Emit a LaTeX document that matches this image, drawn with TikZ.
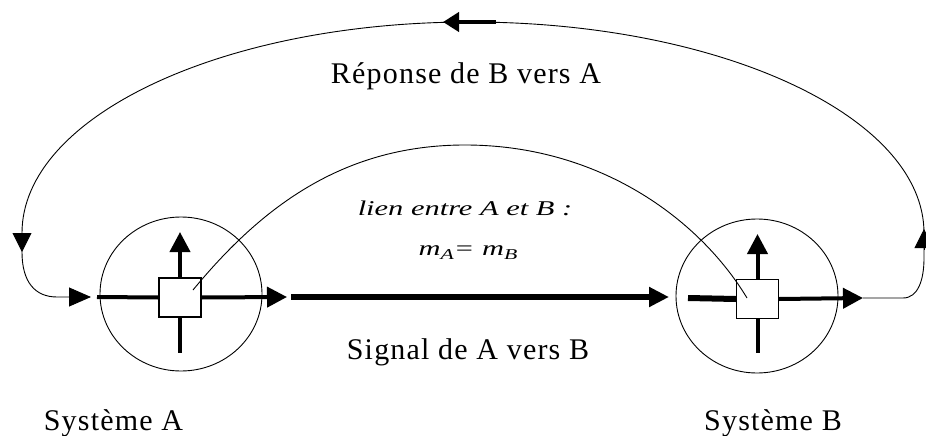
\documentclass[tikz,border=0pt]{standalone}
\usepackage{fontspec}
\setmainfont{Liberation Serif}[LetterSpace=4]
\newfontfamily\linkfont{Liberation Serif}[FakeStretch=1.45]
\usetikzlibrary{arrows.meta,shapes.geometric}
\begin{document}
\begin{tikzpicture}[x=1pt,y=-1pt,
  thinline/.style={line width=0.9pt},
  sys/.style={ellipse,draw,line width=0.9pt,minimum width=162pt,minimum height=154pt,inner sep=0pt},
  sqbox/.style={rectangle,draw,fill=white,line width=1.3pt,minimum width=42pt,minimum height=39pt,inner sep=0pt},
  stub/.style={line width=4pt},
  bigtip/.style={-{Triangle[length=20pt,width=20pt]}},
  midtip/.style={-{Triangle[length=19pt,width=19pt]}},
  txt/.style={font=\fontsize{30}{32}\selectfont, anchor=base, inner sep=0pt},
  linklabel/.style={font=\linkfont\itshape\fontsize{21}{24}\selectfont, anchor=base, inner sep=0pt}
]
\useasboundingbox (0,0) rectangle (926,436);

% systems
\node[sys] (cA) at (181,294) {};
\node[sys] (cB) at (757,296) {};
\node[sqbox] (sA) at (180,297.5) {};
\node[sqbox] (sB) at (757.5,299) {};

% coordinates
\coordinate (Aup) at (180,232);
\coordinate (Adown) at (180,353);
\coordinate (Ain) at (97,297);
\coordinate (Aout) at (287,297);
\coordinate (Bup) at (757.5,234);
\coordinate (Bdown) at (757.5,353);
\coordinate (Bin) at (688,298);
\coordinate (Bout) at (863,298);
\coordinate (sigS) at (291,297);
\coordinate (sigE) at (669,297);

% arrows of system A
\draw[stub,bigtip] (sA.north) -- (Aup);
\draw[stub] (sA.south) -- (Adown);
\draw[stub] (Ain) -- (sA.west);
\draw[stub,bigtip] (sA.east) -- (Aout);
% arrows of system B
\draw[stub,bigtip] (sB.north) -- (Bup);
\draw[stub] (sB.south) -- (Bdown);
\draw[line width=6pt] (Bin) -- (sB.west);
\draw[stub,bigtip] (sB.east) -- (Bout);
% signal
\draw[line width=6pt,-{Triangle[length=20pt,width=19pt]}] (sigS) -- (sigE);

% outer return loop
\coordinate (r1) at (903,298);
\coordinate (r2) at (924,258);
\coordinate (rtop) at (924,233);
\coordinate (top) at (470,22);
\coordinate (ltop) at (22,233);
\coordinate (l2) at (22,252);
\coordinate (l3) at (57,297);
\coordinate (Atip) at (91,297);
\draw[thinline,-{Triangle[length=22pt,width=19pt]}] (Bout) -- (r1)
  .. controls +(15,0) and +(0,22) .. (r2) -- (rtop)
  .. controls +(0,-116.5) and +(250.7,0) .. (top)
  .. controls +(-247.4,0) and +(0,-116.5) .. (ltop) -- (l2)
  .. controls +(0,30) and +(-22,0) .. (l3) -- (Atip);
\coordinate (rArrS) at (924,250);
\coordinate (rArrE) at (924,229);
\draw[thinline,midtip] (rArrS) -- (rArrE);
\coordinate (lArrS) at (22,233);
\coordinate (lArrE) at (22,252);
\draw[thinline,midtip] (lArrS) -- (lArrE);
\coordinate (tArrS) at (496,22);
\coordinate (tArrE) at (443,22);
\draw[line width=4pt,-{Triangle[length=16pt,width=19pt]}] (tArrS) -- (tArrE);

% link between A and B
\coordinate (lkA) at (193,290);
\coordinate (lkB) at (747,298);
\coordinate (lkTop) at (465,145);
\draw[thinline] (lkA) .. controls (263,205) and (345,145) .. (lkTop)
  .. controls (600,145) and (700,220) .. (lkB);

% texts
\node[txt] (rep) at (466,83) {Réponse de B vers A};
\node[txt] (sig) at (468,359) {Signal de A vers B};
\node[txt] (sysA) at (113.5,430) {Système A};
\node[txt] (sysB) at (773,430) {Système B};
\node[linklabel] (lien) at (465,215) {lien entre A et B :};
\node[linklabel] (meq) at (468,255) {m\raisebox{-4pt}{\fontsize{15}{15}\selectfont A}= m\raisebox{-4pt}{\fontsize{15}{15}\selectfont B}};
\end{tikzpicture}
\end{document}
